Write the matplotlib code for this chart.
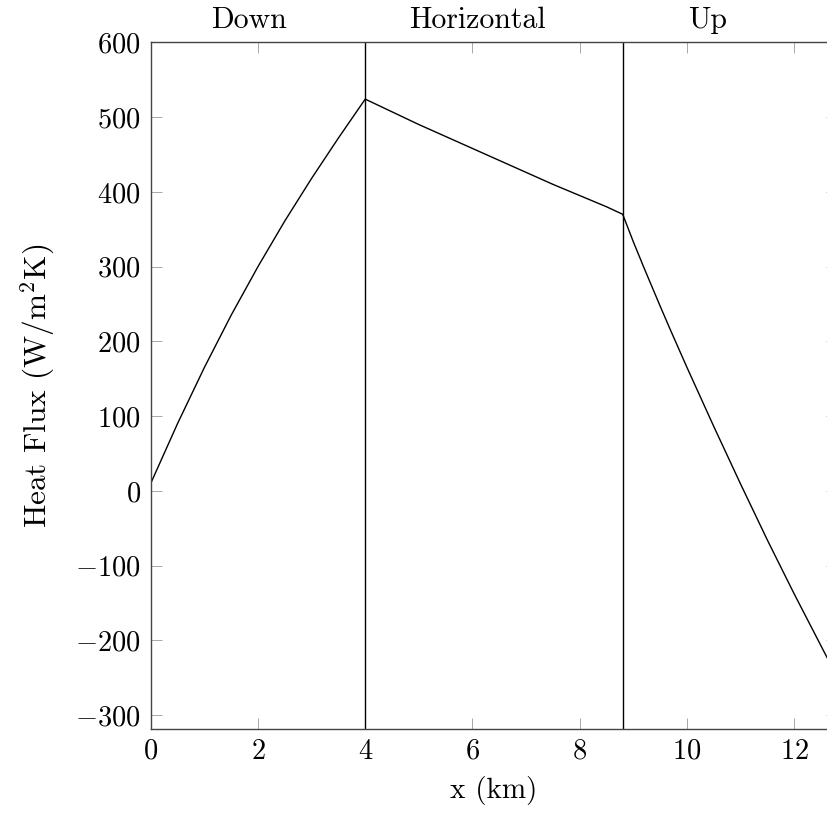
import numpy as np
import matplotlib
matplotlib.use("Agg")
import matplotlib.pyplot as plt
import matplotlib.transforms as mtransforms

plt.rcParams['font.family'] = ['cmr10', 'DejaVu Serif']
plt.rcParams['mathtext.fontset'] = 'cm'
plt.rcParams['axes.formatter.use_mathtext'] = True
plt.rcParams['axes.unicode_minus'] = True

# heat flux along the well
x_km = [0.0, 0.5, 1.0, 1.5, 2.0, 2.5, 3.0, 3.5, 4.0,
        4.5, 5.0, 5.5, 6.0, 6.5, 7.0, 7.5, 8.0, 8.5, 8.8,
        9.0, 9.2, 9.5, 9.68, 10.0, 10.5, 11.0, 11.5, 12.0, 12.54, 12.8]
heat_flux = [10, 90, 165, 235, 300, 361, 418, 472, 524,
             507, 490, 474, 458, 442, 426, 410, 395, 380, 370,
             333, 298, 247, 217, 165, 86, 9, -66, -138, -213, -249]

section_bounds = [4.0, 8.8]
section_names = ["Down", "Horizontal", "Up"]
section_label_x = [1.84, 6.09, 10.38]

xticks = [0, 2, 4, 6, 8, 10, 12]
yticks = [-300, -200, -100, 0, 100, 200, 300, 400, 500, 600]

fig = plt.figure(figsize=(8.27, 8.17), dpi=100)
ax = fig.add_axes([150.7 / 827, 88.3 / 817, 686.5 / 827, 686.4 / 817])

ax.plot(x_km, heat_flux, color='black', lw=1.0)
for xb in section_bounds:
    ax.axvline(xb, color='black', lw=1.0)

trans = mtransforms.blended_transform_factory(ax.transData, ax.transAxes)
for xl, name in zip(section_label_x, section_names):
    ax.text(xl, 1.012, name, transform=trans, ha='center', va='bottom', fontsize=21.5)

ax.set_xlim(0, 12.8)
ax.set_ylim(-318, 600)
ax.set_xticks(xticks)
ax.set_yticks(yticks)
ax.tick_params(direction='in', length=8, width=0.6, color='#999999',
               top=True, right=True, labelsize=20.5, pad=7)
for s in ax.spines.values():
    s.set_color('#444444')
    s.set_linewidth(1.0)

ax.set_xlabel('x (km)', fontsize=21, labelpad=8)
ax.set_ylabel(r'Heat Flux (W/m$^2$K)', fontsize=22.5, labelpad=13)

fig.savefig('out.png', dpi=100)
